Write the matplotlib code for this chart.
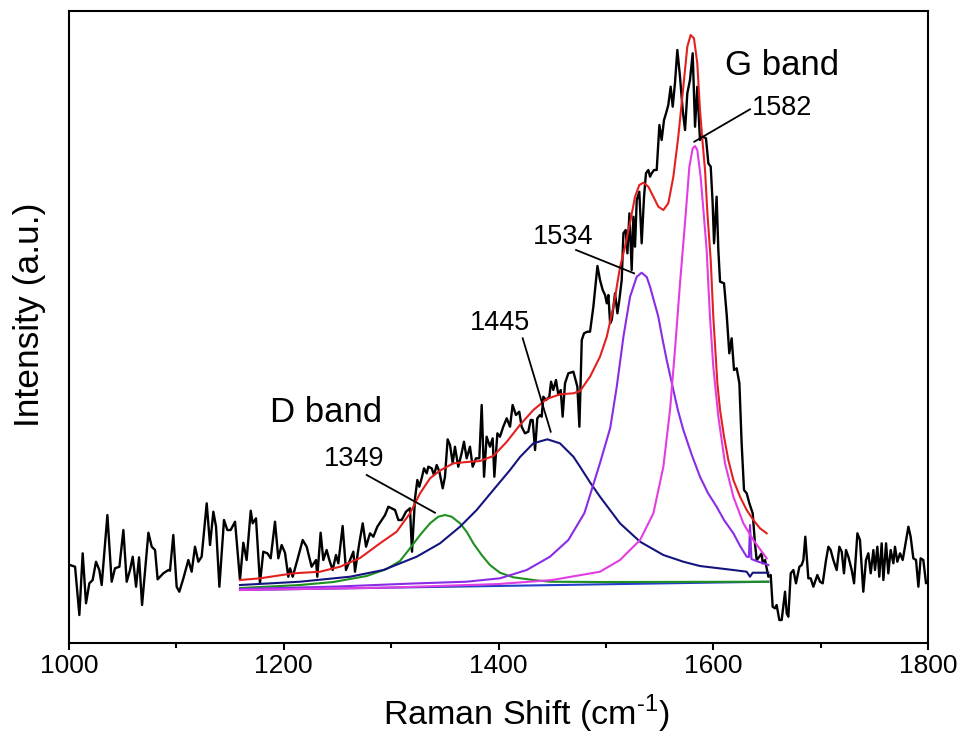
#!/usr/bin/env python3
import matplotlib
matplotlib.use("Agg")
import matplotlib.pyplot as plt
from matplotlib.ticker import MultipleLocator

# measured Raman spectrum (black)
raman_shift = [
    1000.9, 1005.6, 1009.6, 1012.7, 1015.8, 1018.9, 1022.0, 1025.1, 1028.2, 1030.4,
    1035.7, 1039.7, 1042.8, 1046.9, 1050.6, 1053.7, 1056.8, 1059.3, 1062.4, 1065.2,
    1068.0, 1073.9, 1077.0, 1080.1, 1082.5, 1087.8, 1092.5, 1094.0, 1097.1, 1100.2,
    1102.7, 1106.5, 1111.1, 1114.2, 1117.3, 1120.4, 1123.5, 1128.2, 1131.3, 1134.4,
    1136.9, 1140.0, 1144.3, 1147.4, 1150.5, 1154.6, 1159.2, 1162.3, 1165.4, 1169.2,
    1171.0, 1174.1, 1177.8, 1180.9, 1184.7, 1187.8, 1191.8, 1194.9, 1198.0, 1201.1,
    1204.2, 1205.8, 1208.3, 1212.6, 1217.6, 1221.3, 1225.9, 1230.0, 1231.2, 1234.3,
    1236.8, 1239.9, 1242.4, 1245.5, 1248.6, 1250.8, 1254.8, 1257.9, 1261.7, 1264.8,
    1266.3, 1270.3,
    1273.5, 1276.6, 1280.3, 1283.4, 1287.1, 1291.2, 1294.3, 1297.4, 1300.5, 1303.6,
    1306.7, 1309.8, 1313.8, 1317.5, 1319.4, 1322.2, 1324.4, 1326.2, 1328.4, 1330.6,
    1333.1, 1334.6, 1337.7, 1339.9, 1342.4, 1344.9, 1348.0, 1350.1, 1352.6, 1354.8,
    1357.3, 1359.4, 1362.5, 1365.6, 1367.8, 1370.3, 1373.4, 1375.9, 1379.0, 1382.1,
    1384.3, 1386.5, 1388.9, 1392.0, 1394.5, 1396.1, 1398.9, 1401.3, 1404.4, 1407.6,
    1410.7, 1413.1, 1416.2, 1419.3, 1421.5, 1424.6, 1427.7, 1429.9,
    1431.8, 1434.0, 1436.1, 1438.6, 1440.2, 1441.7, 1444.2, 1447.3, 1448.9, 1451.0,
    1453.5, 1455.7, 1457.9, 1459.7, 1461.9, 1465.0, 1469.7, 1473.4, 1475.3,
    1477.5, 1479.6, 1482.7, 1485.2, 1488.3, 1492.1, 1494.5, 1497.0, 1499.2, 1500.8,
    1502.3, 1503.9, 1505.4, 1507.0, 1508.5, 1510.7, 1512.5, 1514.7, 1516.3, 1518.4,
    1520.0, 1521.9, 1524.0, 1525.6, 1527.1, 1528.7,
    1531.1, 1533.3, 1535.5, 1537.3, 1539.5, 1541.1, 1542.6, 1544.8, 1547.3, 1549.8,
    1551.9, 1554.1, 1556.0, 1558.1, 1560.3, 1562.2, 1564.3, 1566.5, 1569.0, 1571.5,
    1573.7, 1575.8, 1578.3, 1580.8, 1583.0, 1585.1, 1587.6, 1590.1, 1593.2, 1595.4,
    1597.6, 1599.4, 1600.7, 1603.1, 1604.7,
    1606.3, 1610.0, 1612.5, 1614.9, 1617.1, 1619.3, 1621.8, 1624.3, 1626.4, 1628.6,
    1631.1, 1633.6, 1636.7, 1638.8, 1640.4,
    1642.9, 1645.1, 1646.0, 1648.2, 1651.3, 1653.5, 1655.3, 1657.5, 1659.0, 1661.5,
    1663.7, 1665.3, 1666.8, 1668.4, 1669.9, 1672.1, 1674.6, 1677.0, 1680.2, 1682.3,
    1683.9, 1685.7, 1688.5, 1690.7, 1693.2, 1696.9, 1699.4, 1701.9, 1705.0, 1707.2,
    1709.3, 1711.8, 1714.9, 1717.4, 1719.6, 1721.7, 1723.6, 1725.8, 1728.9, 1731.1,
    1734.2, 1736.6, 1739.7, 1742.2, 1744.4, 1746.6, 1749.1, 1750.6, 1752.8, 1754.6,
    1756.8, 1758.4, 1760.9, 1763.0, 1765.2, 1767.7, 1769.2, 1771.4, 1773.9, 1776.4,
    1778.5, 1781.7, 1783.8, 1786.3, 1788.8, 1791.0, 1793.1, 1795.6, 1798.1,
]
intensity = [
    78, 76.3, 28, 89.7, 39.7, 59.7, 63, 81.3, 73, 58,
    128, 61.3, 74.7, 76.3, 113, 61.3, 73, 86.3, 56.3, 85.7,
    38, 110.3, 96.3, 93, 63.7, 69.7, 73, 72.3, 108, 56.3,
    51.3, 64.7, 83, 71.3, 96.3, 81.3, 86.3, 139.7, 98, 131.3,
    116.3, 56.3, 123, 113, 113, 121.3, 63, 100.3, 83, 132.3,
    119.7, 124.7, 59.7, 91.3, 89.7, 84.7, 121.3, 84.7, 98, 90.3,
    66.3, 74.7, 66.3, 83, 103, 96.3, 76.3, 83, 66.3, 110.3,
    83, 93, 83, 73, 88, 79.7, 117, 73, 83, 91.3,
    71.3, 99.7,
    119.7, 96.3, 109.7, 106.3, 116.3, 123, 128, 136.3, 134.7, 133,
    123, 123, 131.3, 134.7, 91.3, 144.7, 163, 156.3, 164.7, 174.7,
    169.7, 176.3, 174.7, 168, 178, 171.3, 154.7, 166.3, 203.7, 198,
    179.7, 196.3, 176.3, 189.7, 201.3, 184.7, 196.3, 176.3, 184.7, 184.7,
    238, 166.3, 206.3, 196.3, 204.7, 166.3, 209.7, 206.3, 216.3, 224.7,
    216.3, 238, 228, 231.3, 216.3, 209.7, 211.3, 223,
    223, 193, 224.7, 228, 226.3, 246.3, 243, 246.3, 261.3, 253,
    263, 248, 253, 226.3, 259.7, 269.7, 271.3, 256.3, 216.3,
    303, 309.7, 311.3, 311.3, 336.3, 377, 363, 353, 348, 339.7,
    348, 319.7, 323, 336.3, 349.7, 329.7, 343, 363, 409.7, 413,
    389.7, 429.7, 373, 426.3, 396.3, 443,
    451.3, 399.7, 446.3, 469.7, 473, 466.3, 469.7, 473, 473, 518,
    503, 523, 529.7, 538, 556.3, 536.3, 559.7, 593, 566.3, 533,
    513, 549.7, 563, 589.7, 516.3, 556.3, 503, 506.3, 504.7, 479.7,
    476.3, 439.7, 399.7, 446.3, 393,
    361.3, 359.7, 328, 289.7, 304.7, 273, 274.7, 259.7, 199.7, 153,
    149.7, 139.7, 129.7, 99.7, 83,
    86.3, 89.7, 79.7, 83, 66.3, 68, 36.3, 34.7, 38, 23,
    23, 38, 51.3, 29.7, 26.3, 69.7, 73, 59.7, 76.3, 78,
    83, 106.3, 64.7, 64.7, 56.3, 68, 61.3, 59.7, 83, 96.3,
    93, 83, 73, 96.3, 91.3, 69.7, 93, 86.3, 73, 59.7,
    109.7, 103, 51.3, 83, 89.7, 69.7, 93, 73, 96.3, 66.3,
    99.7, 63, 99.7, 69.7, 93, 79.7, 96.3, 81.3, 89.7, 83,
    96.3, 116.3, 106.3, 84.7, 83, 56.3, 84.7, 83, 60,
]

# cumulative fit (red)
fit_x = [
    1159.2, 1177.8, 1208.9, 1233.7, 1252.4, 1271.0, 1289.6, 1305.1, 1317.5, 1326.9,
    1336.2, 1345.5, 1357.9, 1370.3, 1382.7, 1395.1, 1407.5, 1419.9, 1432.4, 1444.8,
    1457.2, 1469.7, 1475.9, 1485.2, 1494.5, 1500.8, 1507.0, 1513.2, 1517.5, 1522.4,
    1527.1, 1531.1, 1534.9, 1539.5, 1544.2, 1548.8, 1553.5, 1558.1, 1562.8, 1567.4,
    1572.1, 1575.8, 1578.9, 1582.0, 1585.1, 1587.6, 1590.1, 1592.3, 1594.5, 1597.6,
    1600.0, 1603.8, 1606.3, 1610.0, 1614.0, 1618.7, 1624.9, 1631.1, 1637.3, 1643.5,
    1649.7,
]
fit_y = [
    63, 64.7, 69.7, 71.3, 76.3, 85, 99.7, 111.3, 129.7, 149.7,
    164.7, 172.5, 179.7, 181, 182, 187, 201, 218, 233, 244,
    248.7, 249.7, 252, 266.3, 286.3, 306.3, 336.3, 376.3, 395, 419.7,
    446.3, 458, 460.3, 456.3, 446.3, 436.3, 433, 439.7, 466.3, 506.3,
    556.3, 596.3, 608, 604.7, 579.7, 533, 499.7, 473, 430, 383,
    326.3, 259.7, 233, 206.3, 183, 163, 146.3, 133, 123, 114.7,
    109.7,
]

# fitted components
peak1349_x = [1159.2, 1215.0, 1246.1, 1277.2, 1295.8, 1308.2, 1317.5, 1326.9, 1336.2, 1343.9,
              1350.1, 1356.3, 1364.1, 1370.3, 1376.5, 1384.3, 1392.0, 1401.3, 1413.8, 1432.4,
              1447.9, 1500.0, 1651.3]
peak1349_y = [55, 58, 61, 67, 74, 82, 94.7, 108, 119.7, 126.3,
              128, 126.3, 119.7, 111.3, 99.7, 88, 78, 70.3, 65.7, 63,
              61.3, 61, 61.3]

peak1445_x = [1159.2, 1215.0, 1261.7, 1292.7, 1323.7, 1345.5, 1364.1, 1379.6, 1395.1, 1410.7,
              1420.0, 1432.4, 1445.5, 1457.2, 1469.7, 1475.9, 1485.0, 1494.5, 1513.1, 1531.8,
              1553.5, 1572.1, 1587.6, 1618.7, 1631.1, 1634.2, 1636.7, 1651.3]
peak1445_y = [58, 61.3, 66.3, 73, 86.3, 99.7, 116.3, 133, 153, 173,
              186, 199.7, 203.7, 199.7, 186.3, 176.3, 161, 146.3, 119.7, 101.3,
              88, 81.3, 77, 73, 71.3, 66.3, 70.3, 70.3]

peak1534_x = [1159.2, 1250.0, 1320.0, 1370.0, 1401.3, 1426.2, 1447.9, 1465.0, 1480.0, 1494.5,
              1504.0, 1510.1, 1516.3, 1522.5, 1528.7, 1533.3, 1538.0, 1541.1, 1544.5, 1548.8,
              1552.5, 1556.6, 1562.8, 1567.0, 1572.1, 1580.0, 1587.6, 1595.0, 1603.1, 1610.0,
              1618.7, 1625.0, 1631.1, 1633.2, 1634.2, 1635.5, 1640.0, 1651.3]
peak1534_y = [54, 56.5, 59.5, 61.3, 64.7, 73, 86.3, 103, 130, 180,
              215, 256.3, 306.3, 346.3, 366.3, 370.3, 366, 356.3, 343, 326.3,
              305, 283, 253, 233, 213, 188, 166.3, 150, 136.3, 123,
              109.7, 97, 86.3, 86, 118, 84, 82, 78]

peak1582_x = [1159.2, 1300.0, 1400.0, 1450.0, 1494.5, 1513.1, 1531.8, 1544.2, 1553.5, 1559.7,
              1564.3, 1569.0, 1572.1, 1574.6, 1577.7, 1580.8, 1583.0, 1585.1, 1588.2, 1591.3,
              1593.8, 1596.9, 1600.0, 1604.7, 1610.9, 1618.7, 1628.0, 1637.3, 1649.7]
peak1582_y = [53, 55.5, 59, 63, 71.3, 83, 103, 129.7, 176.3, 233,
              293, 359.7, 400, 433, 476.3, 494.7, 497, 493, 466.3, 426.3,
              393, 326.3, 276.3, 226.3, 179.7, 146.3, 119.7, 103, 84.7]

baseline_x = [1159.2, 1651.3]
baseline_y = [53, 61.3]

peak_labels = ["1349", "1445", "1534", "1582"]

RED = "#e4201f"
GREEN = "#1f8f1f"
NAVY = "#14147f"
VIOLET = "#8a2be6"
MAGENTA = "#e23de2"
BLUE = "#2340c8"


def _style_axes(ax):
    for spine in ax.spines.values():
        spine.set_linewidth(1.5)
        spine.set_color("black")
    ax.set_xlim(1000, 1800)
    ax.set_ylim(0, 632)
    ax.xaxis.set_major_locator(MultipleLocator(200))
    ax.xaxis.set_minor_locator(MultipleLocator(100))
    ax.tick_params(axis="x", which="major", direction="out", length=5, width=1.5,
                   labelsize=19, pad=3)
    ax.tick_params(axis="x", which="minor", direction="out", length=3.5, width=1.5)
    ax.set_yticks([])


def main():
    plt.rcParams.update({
        "font.family": ["Liberation Sans", "DejaVu Sans"],
        "mathtext.fontset": "custom",
        "mathtext.rm": "Liberation Sans",
    })
    fig = plt.figure(figsize=(9.63, 7.38), dpi=100)
    ax = fig.add_axes([0.0717, 0.1287, 0.8920, 0.8564])

    ax.plot(raman_shift, intensity, color="black", lw=1.7)
    ax.plot(baseline_x, baseline_y, color=BLUE, lw=1.5)
    ax.plot(peak1349_x, peak1349_y, color=GREEN, lw=1.5)
    ax.plot(peak1445_x, peak1445_y, color=NAVY, lw=1.5)
    ax.plot(peak1534_x, peak1534_y, color=VIOLET, lw=1.5)
    ax.plot(peak1582_x, peak1582_y, color=MAGENTA, lw=1.5)
    ax.plot(fit_x, fit_y, color=RED, lw=1.5)

    # peak position labels with leader lines
    label_pos = [(1236.9, 177), (1373.4, 313), (1432.4, 399.5), (1635.8, 528)]
    leaders = [((1277.2, 168), (1340.8, 130.3)),
               ((1422.5, 304.7), (1448.6, 211.3)),
               ((1472.2, 393), (1526.2, 369.7)),
               ((1634.2, 533.7), (1582.3, 501.3))]
    for text, pos, (p0, p1) in zip(peak_labels, label_pos, leaders):
        ax.text(pos[0], pos[1], text, fontsize=19.5, ha="left", va="baseline")
        ax.plot([p0[0], p1[0]], [p0[1], p1[1]], color="black", lw=1.3)

    ax.text(1187.2, 221, "D band", fontsize=25, ha="left", va="baseline")
    ax.text(1611.0, 568, "G band", fontsize=25, ha="left", va="baseline")

    ax.set_xlabel(r"Raman Shift (cm$^{\text{-}1}$)", fontsize=24.5)
    ax.xaxis.set_label_coords(0.533, -0.078)
    ax.set_ylabel("Intensity (a.u.)", fontsize=25.5)
    ax.yaxis.set_label_coords(-0.027, 0.52)
    _style_axes(ax)

    fig.savefig("out.png", dpi=100)
    plt.close(fig)


if __name__ == "__main__":
    main()
